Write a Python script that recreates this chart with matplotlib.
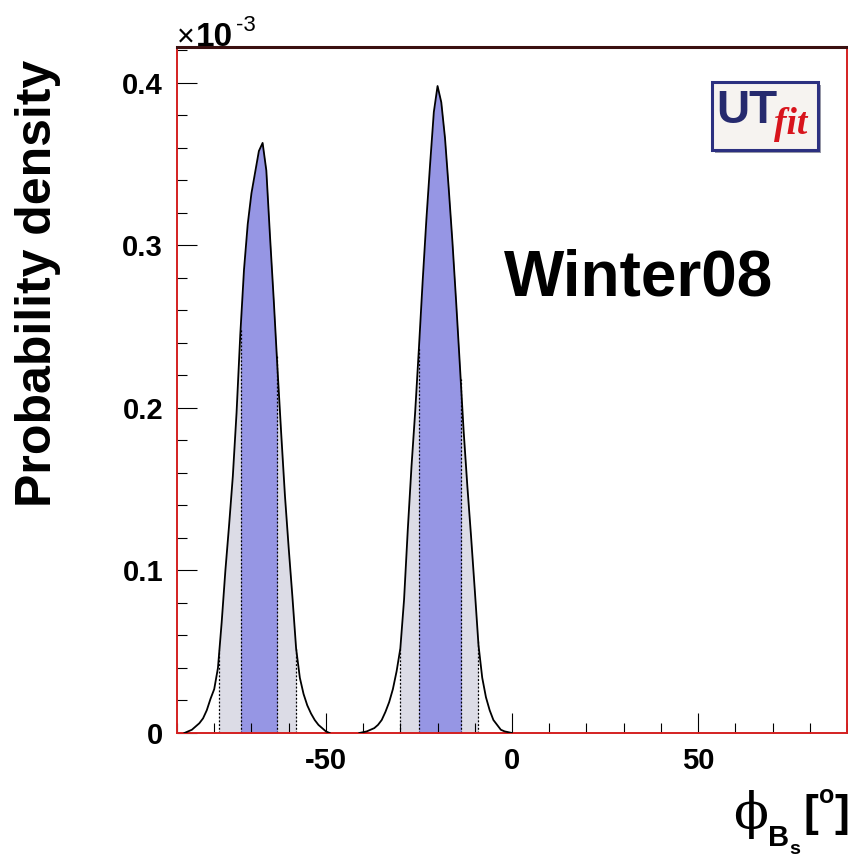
import matplotlib.pyplot as plt
import numpy as np
from matplotlib.patches import Rectangle
from matplotlib.ticker import MultipleLocator

# phi_Bs posterior sampled every degree, density in units of 1e-3
phi_left = np.arange(-88, -48)
dens_left = [
    0.000, 0.001, 0.002, 0.004, 0.006, 0.009, 0.014, 0.021, 0.027, 0.040,
    0.068, 0.100, 0.128, 0.158, 0.197, 0.245, 0.285, 0.313, 0.332, 0.345,
    0.358, 0.363, 0.346, 0.305, 0.266, 0.224, 0.184, 0.146, 0.114, 0.084,
    0.052, 0.034, 0.024, 0.017, 0.012, 0.008, 0.005, 0.003, 0.001, 0.000,
]
phi_right = np.arange(-41, 1)
dens_right = [
    0.000, 0.0005, 0.001, 0.002, 0.003, 0.005, 0.008, 0.013, 0.019, 0.027,
    0.038, 0.052, 0.082, 0.125, 0.164, 0.198, 0.237, 0.278, 0.316, 0.350,
    0.382, 0.398, 0.388, 0.366, 0.335, 0.302, 0.265, 0.226, 0.186, 0.152,
    0.121, 0.088, 0.054, 0.034, 0.022, 0.014, 0.008, 0.005, 0.002, 0.001,
    0.0005, 0.000,
]

# 68% and 95% probability ranges for the two solutions
band68 = [(-72.9, -63.2), (-25.0, -13.8)]
band95 = [(-78.6, -58.0), (-30.0, -9.1)]

plt.rcParams["font.family"] = ["Liberation Sans", "DejaVu Sans"]
plt.rcParams["axes.unicode_minus"] = False

W, H = 848, 858
fig = plt.figure(figsize=(W / 100, H / 100), dpi=100)
ax = fig.add_axes([177 / W, 125 / H, 670 / W, 686 / H])


def px(x, y):
    return x / W, 1 - y / H


blue = "#9696e4"
grey = "#dcdce6"

peaks = [(phi_left, np.array(dens_left)), (phi_right, np.array(dens_right))]
for (phi, dens), (lo68, hi68), (lo95, hi95) in zip(peaks, band68, band95):
    for lo, hi, col in [(lo95, hi95, grey), (lo68, hi68, blue)]:
        fill = ax.fill_between(phi, dens, color=col, lw=0, zorder=1)
        fill.set_clip_path(Rectangle((lo, 0), hi - lo, 1, transform=ax.transData))
        for xb in (lo, hi):
            ax.vlines(xb, 0, np.interp(xb, phi, dens), colors="black",
                      linestyles=(0, (1.5, 1.5)), lw=0.9, zorder=2)
    ax.plot(phi, dens, color="black", lw=1.3, zorder=3)

ax.set_xlim(-90, 90)
ax.set_ylim(0, 0.422)

ax.xaxis.set_major_locator(MultipleLocator(50))
ax.xaxis.set_minor_locator(MultipleLocator(10))
ax.yaxis.set_major_locator(MultipleLocator(0.1))
ax.yaxis.set_minor_locator(MultipleLocator(0.02))
ax.yaxis.set_major_formatter(lambda v, p: "0" if abs(v) < 1e-9 else f"{v:.1f}")
ax.xaxis.set_major_formatter(lambda v, p: f"{v:.0f}")

ax.tick_params(which="both", direction="in", color="black", width=0.8,
               top=False, right=False)
ax.tick_params(which="major", length=14.5, labelsize=21, pad=10)
ax.tick_params(which="minor", length=7.2)
for lab in ax.get_xticklabels() + ax.get_yticklabels():
    lab.set_fontweight("bold")

for side in ["left", "bottom", "right"]:
    ax.spines[side].set_color("#d42020")
    ax.spines[side].set_linewidth(1.4)
ax.spines["top"].set_color("#3a1010")
ax.spines["top"].set_linewidth(2.2)

# exponent of the y axis
fig.text(*px(177, 46), "×", fontsize=22, ha="left", va="baseline")
fig.text(*px(196, 46), "10", fontsize=24, fontweight="bold", ha="left", va="baseline")
fig.text(*px(236, 31), "-3", fontsize=16, ha="left", va="baseline")

fig.text(*px(38, 60), "Probability density", fontsize=36, fontweight="bold",
         rotation=90, ha="center", va="top")

# x axis title, right aligned under the frame
fig.text(*px(733, 828), "\u03d5", fontsize=37, family="DejaVu Serif",
         ha="left", va="baseline")
fig.text(*px(768, 846), "B", fontsize=21, fontweight="bold", ha="left", va="baseline")
fig.text(*px(789, 854), "s", fontsize=14, fontweight="bold", ha="left", va="baseline")
fig.text(*px(804, 826), "[", fontsize=32, fontweight="bold", ha="left", va="baseline")
fig.text(*px(819, 803), "o", fontsize=18, fontweight="bold", ha="left", va="baseline")
fig.text(*px(834, 826), "]", fontsize=32, fontweight="bold", ha="left", va="baseline")

fig.text(*px(504, 295), "Winter08", fontsize=46, fontweight="bold",
         ha="left", va="baseline")

# UTfit logo
x0, y0 = px(712, 150)
bw, bh = 106 / W, 68 / H
fig.patches.append(Rectangle((x0 + 3 / W, y0 - 3 / H), bw, bh, transform=fig.transFigure,
                             facecolor="#9a9aa8", edgecolor="none", zorder=4))
fig.patches.append(Rectangle((x0, y0), bw, bh, transform=fig.transFigure,
                             facecolor="#f6f3f0", edgecolor="#2c3080", lw=2.2, zorder=5))
fig.text(*px(716, 123), "UT", fontsize=33, fontweight="bold", color="#262a6e",
         ha="left", va="baseline", zorder=6)
fig.text(*px(774, 134), "fit", fontsize=27, family="Liberation Serif", style="italic",
         fontweight="bold", color="#d8141c", ha="left", va="baseline", zorder=6)

fig.savefig("out.png", dpi=100)
